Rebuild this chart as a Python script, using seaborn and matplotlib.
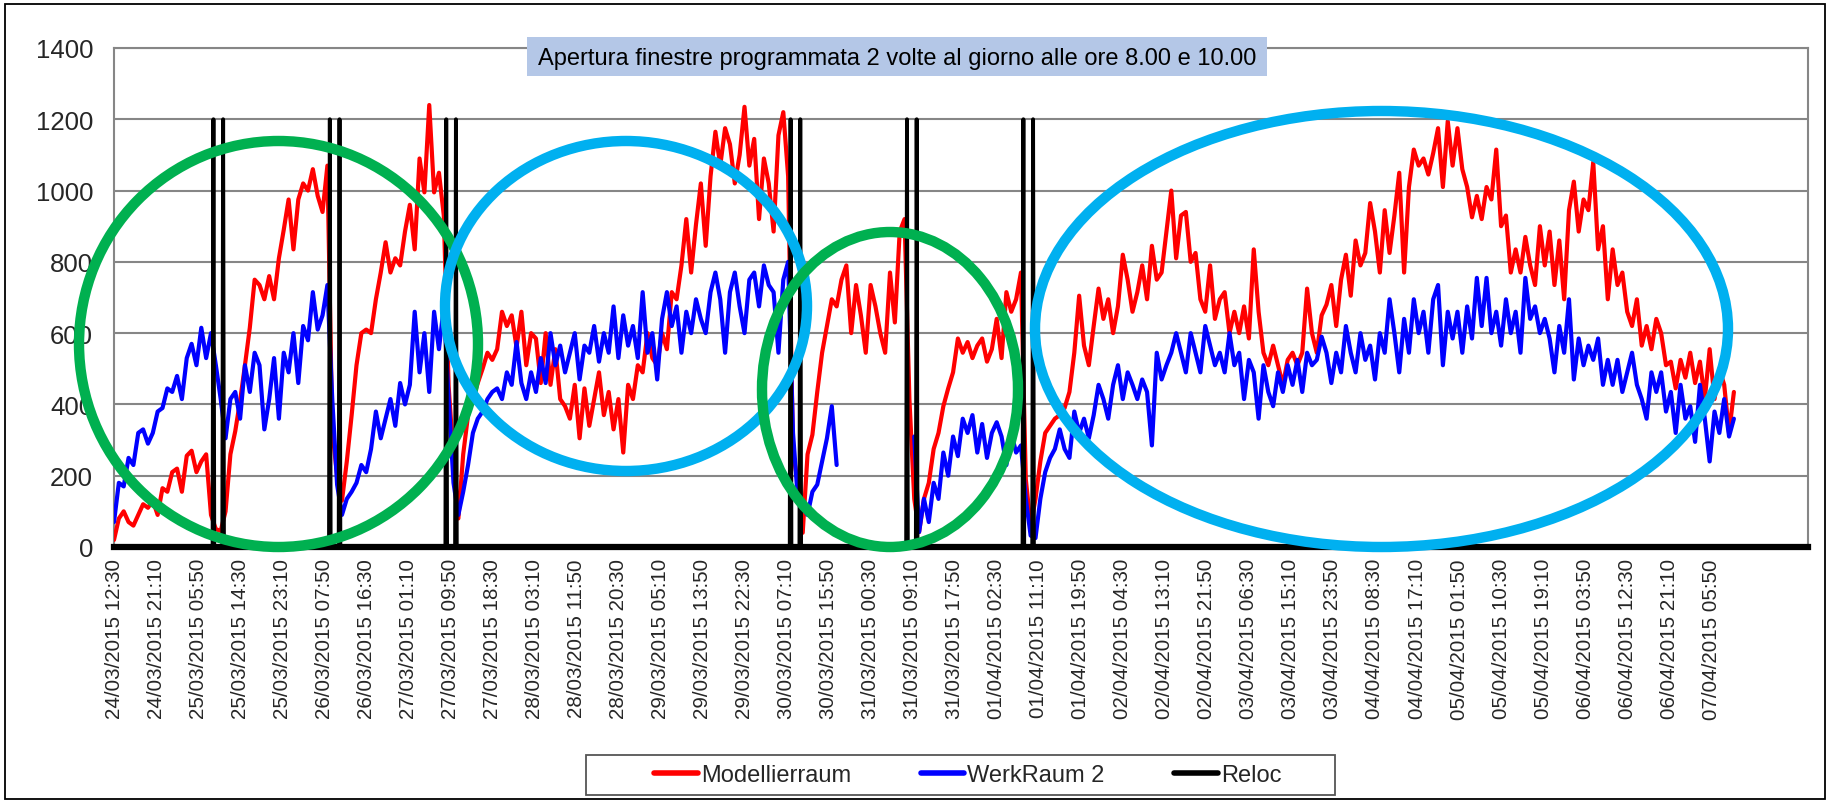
import numpy as np
import pandas as pd
import matplotlib
matplotlib.use("Agg")
import matplotlib.pyplot as plt
import seaborn as sns
from matplotlib.patches import Ellipse, Rectangle
from matplotlib.lines import Line2D
from datetime import datetime

nan = float("nan")

# ---------------- data (hourly readings from 24/03/2015 12:30) ----------------
start_time = "24/03/2015 12:30"

tick_labels = [
    "24/03/2015 12:30", "24/03/2015 21:10", "25/03/2015 05:50", "25/03/2015 14:30",
    "25/03/2015 23:10", "26/03/2015 07:50", "26/03/2015 16:30", "27/03/2015 01:10",
    "27/03/2015 09:50", "27/03/2015 18:30", "28/03/2015 03:10", "28/03/2015 11:50",
    "28/03/2015 20:30", "29/03/2015 05:10", "29/03/2015 13:50", "29/03/2015 22:30",
    "30/03/2015 07:10", "30/03/2015 15:50", "31/03/2015 00:30", "31/03/2015 09:10",
    "31/03/2015 17:50", "01/04/2015 02:30", "01/04/2015 11:10", "01/04/2015 19:50",
    "02/04/2015 04:30", "02/04/2015 13:10", "02/04/2015 21:50", "03/04/2015 06:30",
    "03/04/2015 15:10", "03/04/2015 23:50", "04/04/2015 08:30", "04/04/2015 17:10",
    "05/04/2015 01:50", "05/04/2015 10:30", "05/04/2015 19:10", "06/04/2015 03:50",
    "06/04/2015 12:30", "06/04/2015 21:10", "07/04/2015 05:50",
]

modellierraum = [
    20, 80, 100, 70, 60, 90, 120, 110, 130, 90,
    165, 155, 210, 220, 155, 256, 270, 210, 240, 260,
    90, 50, 45, 100, 260, 325, 410, 510, 615, 750,
    735, 695, 760, 695, 810, 890, 975, 835, 975, 1020,
    1000, 1060, 985, 940, 1070, 330, 200, 130, 240, 370,
    510, 600, 610, 600, 695, 770, 855, 770, 810, 790,
    885, 960, 835, 1090, 995, 1240, 995, 1050, 930, 450,
    250, 80, 260, 370, 415, 460, 500, 545, 525, 555,
    660, 620, 650, 560, 660, 510, 600, 585, 460, 600,
    455, 555, 415, 395, 360, 455, 305, 445, 340, 415,
    490, 370, 435, 330, 415, 265, 455, 415, 510, 490,
    600, 530, 510, 600, 555, 715, 695, 790, 920, 770,
    905, 1020, 845, 1040, 1165, 1070, 1175, 1130, 1020, 1100,
    1235, 1070, 1145, 920, 1090, 1020, 885, 1155, 1220, 1040,
    265, 180, 40, 260, 315, 435, 545, 620, 695, 675,
    750, 790, 600, 735, 650, 545, 735, 675, 600, 545,
    770, 630, 885, 920, 415, 135, 42, 135, 180, 275,
    320, 395, 445, 490, 585, 545, 575, 530, 565, 585,
    520, 555, 640, 530, 715, 660, 695, 770, 190, 60,
    135, 240, 320, 340, 360, 370, 390, 435, 545, 705,
    565, 510, 620, 725, 640, 695, 600, 675, 820, 750,
    660, 715, 790, 695, 845, 750, 770, 885, 1000, 810,
    930, 940, 800, 825, 695, 660, 790, 640, 695, 715,
    600, 660, 600, 675, 585, 835, 660, 545, 510, 565,
    510, 455, 525, 545, 510, 545, 725, 600, 545, 650,
    680, 735, 620, 750, 820, 705, 860, 790, 825, 965,
    885, 770, 945, 825, 930, 1050, 770, 1010, 1115, 1070,
    1090, 1045, 1105, 1175, 1010, 1195, 1070, 1175, 1060, 1010,
    925, 985, 920, 1010, 975, 1115, 900, 930, 770, 835,
    770, 870, 790, 735, 900, 790, 885, 735, 860, 695,
    945, 1025, 885, 975, 945, 1080, 835, 900, 695, 835,
    735, 770, 660, 620, 695, 565, 620, 555, 640, 600,
    510, 520, 445, 525, 475, 545, 460, 520, 415, 555,
    415, 500, 455, 320, 435,
]

werkraum2 = [
    70, 180, 170, 250, 230, 320, 330, 290, 320, 380,
    390, 445, 435, 480, 415, 530, 570, 510, 615, 530,
    600, 510, 415, 305, 415, 435, 360, 510, 435, 545,
    510, 330, 415, 530, 360, 545, 490, 600, 460, 620,
    580, 715, 610, 650, 735, 415, 175, 90, 135, 155,
    180, 230, 210, 275, 380, 305, 360, 415, 340, 460,
    400, 455, 660, 490, 600, 435, 660, 555, 675, 415,
    180, 90, 155, 230, 320, 360, 380, 415, 435, 445,
    415, 490, 455, 575, 460, 415, 490, 435, 530, 460,
    600, 510, 565, 490, 545, 600, 470, 565, 545, 620,
    520, 600, 545, 675, 530, 650, 565, 620, 530, 715,
    545, 600, 470, 640, 715, 620, 675, 545, 660, 600,
    695, 640, 600, 715, 770, 695, 545, 715, 770, 675,
    600, 750, 770, 675, 790, 735, 715, 545, 750, 800,
    320, 135, 110, 90, 155, 175, 240, 305, 395, 230,
    nan, nan, nan, nan, nan, nan, nan, nan, nan, nan,
    nan, nan, nan, nan, nan, 310, 42, 135, 70, 180,
    135, 265, 200, 310, 255, 360, 320, 370, 265, 345,
    250, 320, 350, 310, 230, 320, 265, 285, 135, 32,
    25, 135, 210, 250, 275, 330, 275, 250, 380, 320,
    360, 305, 370, 455, 415, 360, 455, 510, 415, 490,
    455, 415, 470, 435, 285, 545, 470, 510, 545, 600,
    545, 490, 600, 545, 490, 620, 565, 510, 545, 490,
    600, 510, 545, 415, 525, 490, 360, 510, 435, 395,
    490, 435, 510, 455, 525, 435, 545, 510, 525, 590,
    545, 460, 545, 490, 620, 545, 490, 600, 525, 565,
    470, 600, 545, 695, 600, 490, 640, 545, 695, 600,
    660, 545, 695, 735, 510, 660, 585, 660, 545, 675,
    585, 755, 620, 755, 600, 660, 565, 695, 600, 660,
    545, 755, 640, 675, 600, 640, 585, 490, 620, 545,
    695, 470, 585, 510, 565, 525, 585, 455, 525, 455,
    525, 435, 490, 545, 455, 415, 360, 490, 435, 490,
    380, 435, 320, 455, 360, 395, 295, 455, 360, 240,
    380, 320, 415, 310, 360,
]

reloc_times = [
    "25/03/2015 09:00", "25/03/2015 11:00",
    "26/03/2015 09:00", "26/03/2015 11:00",
    "27/03/2015 09:00", "27/03/2015 11:00",
    "30/03/2015 08:00", "30/03/2015 10:00",
    "31/03/2015 08:00", "31/03/2015 10:00",
    "01/04/2015 08:00", "01/04/2015 10:00",
]
reloc_level = 1200

series_names = ["Modellierraum", "WerkRaum 2", "Reloc"]
series_colors = ["#FF0000", "#0000FF", "#000000"]
title_text = "Apertura finestre programmata 2 volte al giorno alle ore 8.00 e 10.00"

# ---------------- styling ----------------
sns.set_theme(style="white")
plt.rcParams["font.family"] = ["Liberation Sans", "DejaVu Sans"]

W, H = 1829, 804
fig = plt.figure(figsize=(W / 100, H / 100), dpi=100)
fig.patch.set_facecolor("white")

def fx(px):
    return px / W

def fy(py):
    return 1 - py / H

ax_left, ax_right, ax_top, ax_bot = 114, 1808, 49, 548
ax = fig.add_axes([fx(ax_left), fy(ax_bot), fx(ax_right - ax_left), (ax_bot - ax_top) / H])
ax.set_facecolor("white")

fmt = "%d/%m/%Y %H:%M"
t0 = datetime.strptime(start_time, fmt)

# hourly series
df_red = pd.DataFrame({"h": np.arange(len(modellierraum), dtype=float),
                       "v": np.array(modellierraum, dtype=float)})
blue_v = np.array(werkraum2, dtype=float)
df_blue = pd.DataFrame({"h": np.arange(len(blue_v), dtype=float), "v": blue_v})
df_blue["seg"] = np.isnan(df_blue["v"]).cumsum()
df_blue = df_blue.dropna()

# Reloc on 10-minute grid
n_steps = (len(modellierraum) - 1) * 6 + 1
reloc_v = np.zeros(n_steps)
for t in reloc_times:
    idx = int(round((datetime.strptime(t, fmt) - t0).total_seconds() / 600))
    reloc_v[idx] = reloc_level
df_reloc = pd.DataFrame({"h": np.arange(n_steps) / 6.0, "v": reloc_v})

lw = 3.0
sns.lineplot(data=df_red, x="h", y="v", color=series_colors[0], lw=lw,
             estimator=None, errorbar=None, legend=False, ax=ax, zorder=3)
sns.lineplot(data=df_blue, x="h", y="v", units="seg", color=series_colors[1], lw=lw,
             estimator=None, errorbar=None, legend=False, ax=ax, zorder=4)
sns.lineplot(data=df_reloc, x="h", y="v", color=series_colors[2], lw=2.8,
             estimator=None, errorbar=None, legend=False, ax=ax, zorder=5,
             clip_on=False)

# axes
tick_step_h = 8 + 40 / 60
ax.set_xticks(np.arange(len(tick_labels)) * tick_step_h)
ax.set_xticklabels(tick_labels, rotation=90, fontsize=14.8)
ax.set_xlim(0, (ax_right - ax_left) / 4.85)
ax.set_ylim(0, 1400)
ax.set_yticks(range(0, 1401, 200))
ax.tick_params(axis="y", labelsize=18.5, length=6, width=1.3, color="#868686", pad=9)
ax.tick_params(axis="x", length=0, pad=8)
ax.set_xlabel("")
ax.set_ylabel("")
ax.yaxis.grid(True, color="#868686", lw=1.5)
ax.xaxis.grid(False)
ax.set_axisbelow(True)
for s in ["left", "right", "top"]:
    ax.spines[s].set_color("#868686")
    ax.spines[s].set_linewidth(1.5)
ax.spines["bottom"].set_color("black")
ax.spines["bottom"].set_linewidth(4.5)

# annotation ellipses (figure pixel geometry)
ellipses = [
    (278.5, 345, 399, 406, "#00B050"),
    (626, 307, 362, 330, "#00B0F0"),
    (890, 390.5, 256, 315, "#00B050"),
    (1381.5, 330, 693, 436, "#00B0F0"),
]
for cx, cy, ew, eh, c in ellipses:
    fig.add_artist(Ellipse((fx(cx), fy(cy)), fx(ew), eh / H, transform=fig.transFigure,
                           fill=False, lw=7.5, ec=c, zorder=10))

# title box
bx0, bx1, by0, by1 = 527, 1267, 38, 77
fig.add_artist(Rectangle((fx(bx0), fy(by1)), fx(bx1 - bx0), (by1 - by0) / H,
                         transform=fig.transFigure, fc="#B4C7E7", ec="none", zorder=11))
fig.text(fx((bx0 + bx1) / 2), fy((by0 + by1) / 2 + 1), title_text, ha="center", va="center",
         fontsize=17, color="black", zorder=12)

# outer frame
fig.add_artist(Rectangle((fx(5), fy(800)), fx(1820), 795 / H, transform=fig.transFigure,
                         fill=False, ec="black", lw=1.3, zorder=20))

# legend (frame drawn separately for Excel-like padding)
lx0, lx1, ly0, ly1 = 586, 1335, 756, 796
fig.add_artist(Rectangle((fx(lx0), fy(ly1)), fx(lx1 - lx0), (ly1 - ly0) / H,
                         transform=fig.transFigure, fill=False, ec="#555555", lw=1.3,
                         zorder=20))
handles = [Line2D([0], [0], color=c, lw=4) for c in series_colors]
fig.legend(handles, series_names, loc="center left", bbox_to_anchor=(fx(654), fy(776)),
           ncol=3, frameon=False, fontsize=17, handlelength=1.86, handletextpad=0.12,
           columnspacing=2.95, borderpad=0, borderaxespad=0)

fig.savefig("out.png", dpi=100)
